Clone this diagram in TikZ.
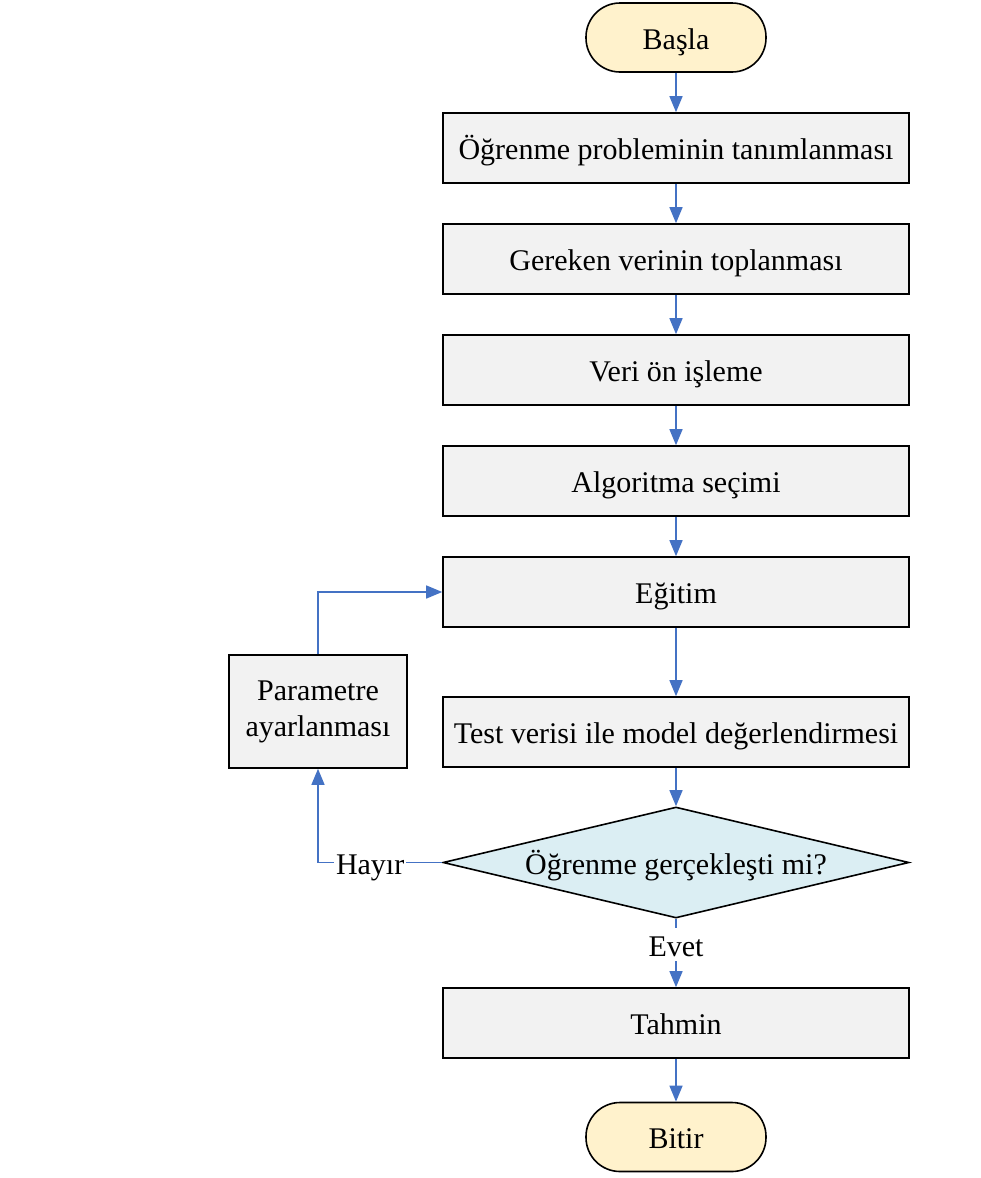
\documentclass[tikz,border=0pt]{standalone}
\usepackage{fontspec}
\setmainfont{Liberation Serif}
\usetikzlibrary{shapes.geometric,arrows.meta}
\definecolor{okmavi}{HTML}{4472C4}
\definecolor{kutugri}{HTML}{F2F2F2}
\definecolor{uckrem}{HTML}{FFF2CC}
\definecolor{kararmavi}{HTML}{DBEEF3}
\begin{document}
\begin{tikzpicture}[x=1pt, y=-1pt,
    font=\fontsize{30}{36}\selectfont,
    yazi/.style={text height=26pt, text depth=3pt},
    islem/.style={draw=black, line width=1.6pt, fill=kutugri, minimum width=466pt, minimum height=70pt, inner sep=2pt, yazi},
    uc/.style={draw=black, line width=1.6pt, fill=uckrem, rounded corners=34pt, minimum width=180pt, minimum height=69pt, yazi},
    karar/.style={diamond, draw=black, line width=1.6pt, fill=kararmavi, aspect=4.2, minimum width=466pt, minimum height=111pt, inner sep=0pt, yazi},
    ok/.style={draw=okmavi, line width=1.4pt, -{Triangle[length=16pt,width=13pt]}},
    etiket/.style={fill=white, inner sep=2pt, yazi}]
      \useasboundingbox (0, 0) rectangle (981, 1178);
      % nodes
      \node[uc] (basla) at (676, 37.5) {Başla};
      \node[islem] (tanim) at (676, 148) {Öğrenme probleminin tanımlanması};
      \node[islem] (topla) at (676, 259) {Gereken verinin toplanması};
      \node[islem] (onisle) at (676, 370) {Veri ön işleme};
      \node[islem] (secim) at (676, 481) {Algoritma seçimi};
      \node[islem] (egitim) at (676, 592) {Eğitim};
      \node[islem] (test) at (676, 732) {Test verisi ile model değerlendirmesi};
      \node[karar] (ogrendi) at (676, 862.5) {Öğrenme gerçekleşti mi?};
      \node[islem] (tahmin) at (676, 1023) {Tahmin};
      \node[uc] (bitir) at (676, 1137) {Bitir};
      \node[draw=black, line width=1.6pt, fill=kutugri, minimum width=178pt, minimum height=113pt, align=center] (param) at (318, 711.5) {Parametre\\ayarlanması};
      % lines
      \draw[ok] (basla) -- (tanim);
      \draw[ok] (tanim) -- (topla);
      \draw[ok] (topla) -- (onisle);
      \draw[ok] (onisle) -- (secim);
      \draw[ok] (secim) -- (egitim);
      \draw[ok] (egitim) -- (test);
      \draw[ok] (test) -- (ogrendi);
      \draw[ok] (ogrendi) -- node[etiket, pos=0.38] {Evet} (tahmin);
      \draw[ok] (tahmin) -- (bitir);
      \draw[ok] (ogrendi.west) -| node[etiket, pos=0.29] {Hayır} (param.south);
      \draw[ok] (param.north) |- (egitim.west);
    \end{tikzpicture}
\end{document}
